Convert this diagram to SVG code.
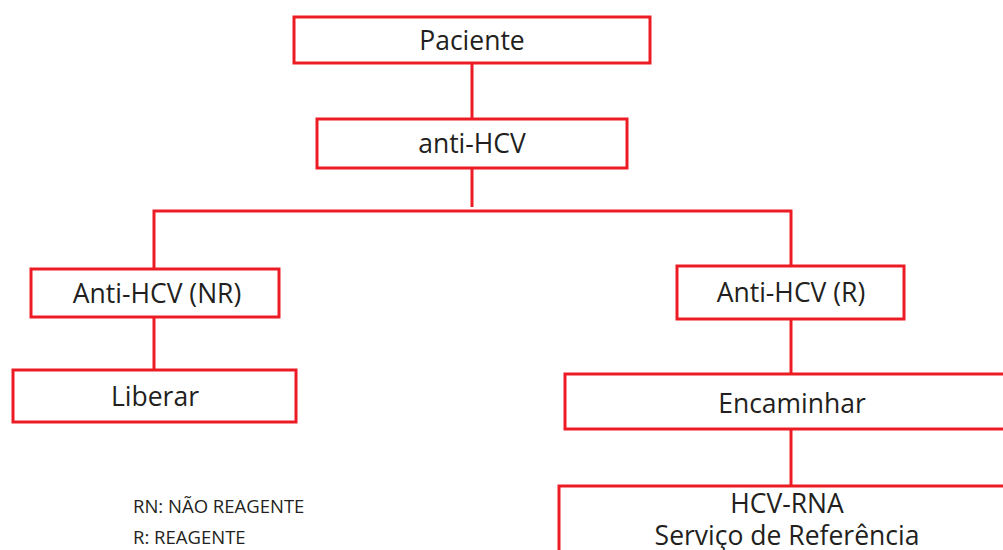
<svg xmlns="http://www.w3.org/2000/svg" width="1003" height="550" viewBox="0 0 1003 550">
  <style>
    .box { fill: #ffffff; stroke: #ed1c24; stroke-width: 3; }
    .link { fill: none; stroke: #ed1c24; stroke-width: 3; }
    .label { font-family: "Open Sans", "Noto Sans", sans-serif; font-size: 26.5px; fill: #231f20; text-anchor: middle; }
    .legend { font-family: "Open Sans", "Noto Sans", sans-serif; font-size: 18.5px; fill: #231f20; }
  </style>
  <rect width="1003" height="550" fill="#ffffff"/>

  <g id="connectors">
    <line class="link" x1="472" y1="63" x2="472" y2="119"/>
    <line class="link" x1="472" y1="168" x2="472" y2="207"/>
    <polyline class="link" points="154,269 154,211 791,211 791,266"/>
    <line class="link" x1="154" y1="317" x2="154" y2="370"/>
    <line class="link" x1="791" y1="319" x2="791" y2="374"/>
    <line class="link" x1="791" y1="429" x2="791" y2="486"/>
  </g>

  <g id="paciente">
    <rect class="box" x="294" y="17" width="356" height="46"/>
    <text class="label" x="472" y="50">Paciente</text>
  </g>

  <g id="anti-hcv">
    <rect class="box" x="317" y="119" width="310" height="49"/>
    <text class="label" x="472" y="153">anti-HCV</text>
  </g>

  <g id="anti-hcv-nr">
    <rect class="box" x="31" y="269" width="248" height="48"/>
    <text class="label" x="157" y="303">Anti-HCV (NR)</text>
  </g>

  <g id="liberar">
    <rect class="box" x="13" y="370" width="283" height="52"/>
    <text class="label" x="155" y="406">Liberar</text>
  </g>

  <g id="anti-hcv-r">
    <rect class="box" x="677" y="266" width="227" height="53"/>
    <text class="label" x="791" y="302">Anti-HCV (R)</text>
  </g>

  <g id="encaminhar">
    <rect class="box" x="565" y="374" width="450" height="55"/>
    <text class="label" x="792" y="413">Encaminhar</text>
  </g>

  <g id="hcv-rna">
    <rect class="box" x="559" y="486" width="460" height="80"/>
    <text class="label" x="787" y="513">HCV-RNA</text>
    <text class="label" x="787" y="545">Serviço de Referência</text>
  </g>

  <g id="legenda">
    <text class="legend" x="133" y="513">RN: NÃO REAGENTE</text>
    <text class="legend" x="133" y="544">R: REAGENTE</text>
  </g>
</svg>
